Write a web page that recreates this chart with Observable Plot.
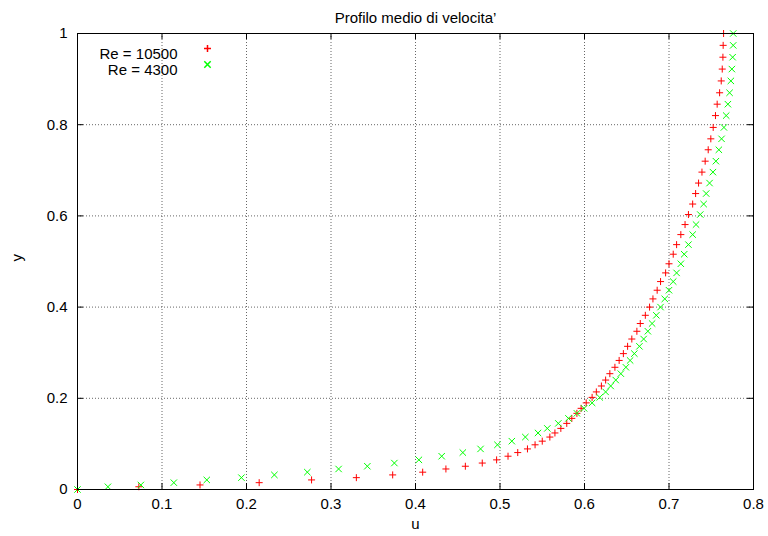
<!DOCTYPE html>
<html>
<head>
<meta charset="utf-8">
<script src="https://cdn.jsdelivr.net/npm/d3@7"></script>
<script src="https://cdn.jsdelivr.net/npm/@observablehq/plot@0.6"></script>
<style>
  html, body { margin: 0; padding: 0; background: #fff; }
  #chart svg { display: block; }
</style>
</head>
<body>
<div id="chart"></div>
<script>
// Mean velocity profile: wall-normal coordinate y (shared grid) and mean velocity u
const yGrid = [
  0, 0.006, 0.010, 0.015, 0.021, 0.026, 0.032, 0.038, 0.045, 0.051,
  0.058, 0.065, 0.073, 0.081, 0.089, 0.098, 0.106, 0.115, 0.124, 0.134,
  0.145, 0.156, 0.167, 0.178, 0.190, 0.202, 0.214, 0.227, 0.240, 0.254,
  0.268, 0.283, 0.298, 0.314, 0.330, 0.347, 0.364, 0.382, 0.400, 0.418,
  0.437, 0.456, 0.475, 0.495, 0.516, 0.537, 0.559, 0.581, 0.603, 0.626,
  0.649, 0.672, 0.696, 0.720, 0.745, 0.769, 0.794, 0.820, 0.845, 0.870,
  0.896, 0.922, 0.948, 0.974, 1.000
];
const uRe10500 = [
  0, 0.0726, 0.145, 0.215, 0.277, 0.330, 0.373, 0.4085, 0.436, 0.459,
  0.479, 0.496, 0.5095, 0.521, 0.5325, 0.5415, 0.550, 0.559, 0.565, 0.572,
  0.579, 0.585, 0.591, 0.596, 0.602, 0.609, 0.614, 0.620, 0.625, 0.630,
  0.636, 0.641, 0.646, 0.651, 0.656, 0.662, 0.666, 0.672, 0.677, 0.681,
  0.686, 0.690, 0.696, 0.700, 0.705, 0.709, 0.714, 0.719, 0.723, 0.728,
  0.7315, 0.735, 0.739, 0.7428, 0.7464, 0.7495, 0.7523, 0.755, 0.757, 0.7599,
  0.7618, 0.7630, 0.7638, 0.7641, 0.7646
];
const uRe4300 = [
  0, 0.036, 0.075, 0.114, 0.153, 0.194, 0.233, 0.272, 0.309, 0.343,
  0.375, 0.404, 0.431, 0.456, 0.477, 0.497, 0.514, 0.530, 0.545, 0.556,
  0.569, 0.581, 0.591, 0.5995, 0.609, 0.618, 0.625, 0.631, 0.637, 0.643,
  0.649, 0.654, 0.659, 0.665, 0.670, 0.675, 0.680, 0.685, 0.690, 0.695,
  0.700, 0.705, 0.709, 0.714, 0.718, 0.723, 0.728, 0.732, 0.737, 0.741,
  0.744, 0.748, 0.752, 0.7555, 0.759, 0.7622, 0.765, 0.7677, 0.7697, 0.7717,
  0.7732, 0.7744, 0.7753, 0.776, 0.776
];
const seriesNames = ["Re = 10500", "Re = 4300"];
const seriesColors = ["#ff0000", "#00ff00"];
const titleText = "Profilo medio di velocita\u2019";
const xLabel = "u";
const yLabel = "y";
const xTicks = [0, 0.1, 0.2, 0.3, 0.4, 0.5, 0.6, 0.7, 0.8];
const xTickLabels = ["0", "0.1", "0.2", "0.3", "0.4", "0.5", "0.6", "0.7", "0.8"];
const yTicks = [0, 0.2, 0.4, 0.6, 0.8, 1];
const yTickLabels = ["0", "0.2", "0.4", "0.6", "0.8", "1"];

// Layout
const W = 768, H = 536;
const mL = 77, mR = 15, mT = 33, mB = 47;
const frameW = W - mL - mR, frameH = H - mT - mB;
const tickLen = 6;
const font = "'Liberation Sans', Arial, Helvetica, sans-serif";
const fs = 15;

// gnuplot-style point glyphs, drawn as strokes
const plusSymbol = {
  draw(ctx) { const r = 3.5; ctx.moveTo(-r, 0); ctx.lineTo(r, 0); ctx.moveTo(0, -r); ctx.lineTo(0, r); }
};
const timesSymbol = {
  draw(ctx) { const r = 3.2; ctx.moveTo(-r, -r); ctx.lineTo(r, r); ctx.moveTo(-r, r); ctx.lineTo(r, -r); }
};

const rows10500 = yGrid.map((y, i) => ({u: uRe10500[i], y}));
const rows4300 = yGrid.map((y, i) => ({u: uRe4300[i], y}));

const xFmt = d => xTickLabels[xTicks.indexOf(d)];
const yFmt = d => yTickLabels[yTicks.indexOf(d)];

const chart = Plot.plot({
  width: W,
  height: H,
  marginLeft: mL, marginRight: mR, marginTop: mT, marginBottom: mB,
  style: {fontFamily: font, fontSize: fs + "px", color: "#000", background: "#fff"},
  x: {domain: [0, 0.8], axis: null},
  y: {domain: [0, 1], axis: null},
  marks: [
    // dotted grid
    Plot.ruleX(xTicks, {stroke: "#000", strokeOpacity: 0.6, strokeDasharray: "1,2"}),
    Plot.ruleY(yTicks, {stroke: "#000", strokeOpacity: 0.6, strokeDasharray: "1,2"}),
    // data
    Plot.dot(rows10500, {x: "u", y: "y", symbol: plusSymbol, fill: "none", stroke: seriesColors[0], strokeWidth: 1}),
    Plot.dot(rows4300, {x: "u", y: "y", symbol: timesSymbol, fill: "none", stroke: seriesColors[1], strokeWidth: 1}),
    // border and inward mirrored ticks
    Plot.frame({stroke: "#000", strokeWidth: 1}),
    Plot.tickX(xTicks, {x: d => d, stroke: "#000", insetTop: frameH - tickLen}),
    Plot.tickX(xTicks, {x: d => d, stroke: "#000", insetBottom: frameH - tickLen}),
    Plot.tickY(yTicks, {y: d => d, stroke: "#000", insetRight: frameW - tickLen}),
    Plot.tickY(yTicks, {y: d => d, stroke: "#000", insetLeft: frameW - tickLen}),
    // tick labels
    Plot.axisX(xTicks, {anchor: "bottom", tickSize: 0, tickPadding: 9, tickFormat: xFmt, label: null, fontSize: fs}),
    Plot.axisY(yTicks, {anchor: "left", tickSize: 0, tickPadding: 10, tickFormat: yFmt, label: null, fontSize: fs}),
    // titles
    Plot.text([titleText], {frameAnchor: "top", dy: -21, fontSize: fs}),
    Plot.text([xLabel], {frameAnchor: "bottom", dy: 39, fontSize: fs}),
    Plot.text([yLabel], {frameAnchor: "left", dx: -60, rotate: -90, fontSize: fs}),
    // key
    Plot.text([seriesNames[0]], {frameAnchor: "top-left", dx: 100, dy: 15, textAnchor: "end", fontSize: fs}),
    Plot.text([seriesNames[1]], {frameAnchor: "top-left", dx: 100, dy: 31, textAnchor: "end", fontSize: fs}),
    Plot.dot([seriesNames[0]], {frameAnchor: "top-left", dx: 130, dy: 15, symbol: plusSymbol, fill: "none", stroke: seriesColors[0]}),
    Plot.dot([seriesNames[1]], {frameAnchor: "top-left", dx: 130, dy: 31, symbol: timesSymbol, fill: "none", stroke: seriesColors[1]})
  ]
});
document.getElementById("chart").append(chart);
</script>
</body>
</html>
